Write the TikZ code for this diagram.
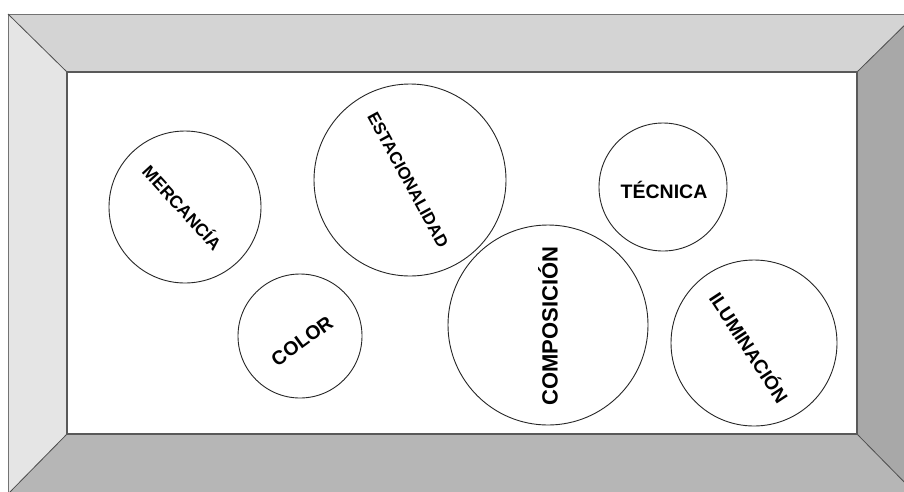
\documentclass[tikz,border=0pt]{standalone}
\usepackage{fontspec}
\setmainfont{Liberation Sans}
\usetikzlibrary{calc}
\begin{document}
\begin{tikzpicture}[x=1pt,y=-1pt,
  theme/.style={circle,draw=black!85,line width=0.9pt,fill=white,inner sep=0pt},
  word/.style={font=\bfseries\fontsize{#1}{#1}\selectfont,inner sep=0pt},
  word/.default=18]
\useasboundingbox (0,0) rectangle (904,491);
\fill[white] (0,0) rectangle (904,491);
\clip (0,0) rectangle (904,491);
% frame corners
\coordinate (o1) at (8,14);
\coordinate (o2) at (916,14);
\coordinate (o3) at (916,494);
\coordinate (o4) at (8,494);
\coordinate (i1) at (68,73);
\coordinate (i2) at (856,73);
\coordinate (i3) at (856,433);
\coordinate (i4) at (68,433);
% bevelled frame panels
\fill[fill={rgb,255:red,212;green,212;blue,212}] (o1) -- (o2) -- (i2) -- (i1) -- cycle;
\fill[fill={rgb,255:red,229;green,229;blue,229}] (o1) -- (i1) -- (i4) -- (o4) -- cycle;
\fill[fill={rgb,255:red,168;green,168;blue,168}] (o2) -- (o3) -- (i3) -- (i2) -- cycle;
\fill[fill={rgb,255:red,182;green,182;blue,182}] (o4) -- (i4) -- (i3) -- (o3) -- cycle;
\draw[draw=black!55,line width=0.8pt] (o1) rectangle (o3);
\draw[draw=black!70,line width=0.8pt] (o1) -- (i1) (o2) -- (i2) (o3) -- (i3) (o4) -- (i4);
% white canvas
\fill[white] (i1) rectangle (i3);
\draw[draw=black!65,line width=2.6pt] ($(i1)+(-1,-1)$) rectangle ($(i3)+(1,1)$);
% theme circles
\node[theme,minimum size=152pt] (mer) at (185,207) {};
\node[theme,minimum size=192pt] (est) at (410,180) {};
\node[theme,minimum size=124pt] (col) at (300,336) {};
\node[theme,minimum size=200pt] (com) at (548,325) {};
\node[theme,minimum size=128pt] (tec) at (663,187) {};
\node[theme,minimum size=166pt] (ilu) at (754,343) {};
% labels
\node[word=17.5,rotate=-47.5] (tmer) at (183,207) {MERCANCÍA};
\node[word=17,rotate=-61.4] (test) at (408,180) {ESTACIONALIDAD};
\node[word=19.5,rotate=36] (tcol) at (302,341) {COLOR};
\node[word=22,rotate=90] (tcom) at (548,326) {COMPOSICIÓN};
\node[word=19.5] (ttec) at (664,190) {TÉCNICA};
\node[word=19,rotate=-56.8] (tilu) at (750,347) {ILUMINACIÓN};
\end{tikzpicture}
\end{document}
